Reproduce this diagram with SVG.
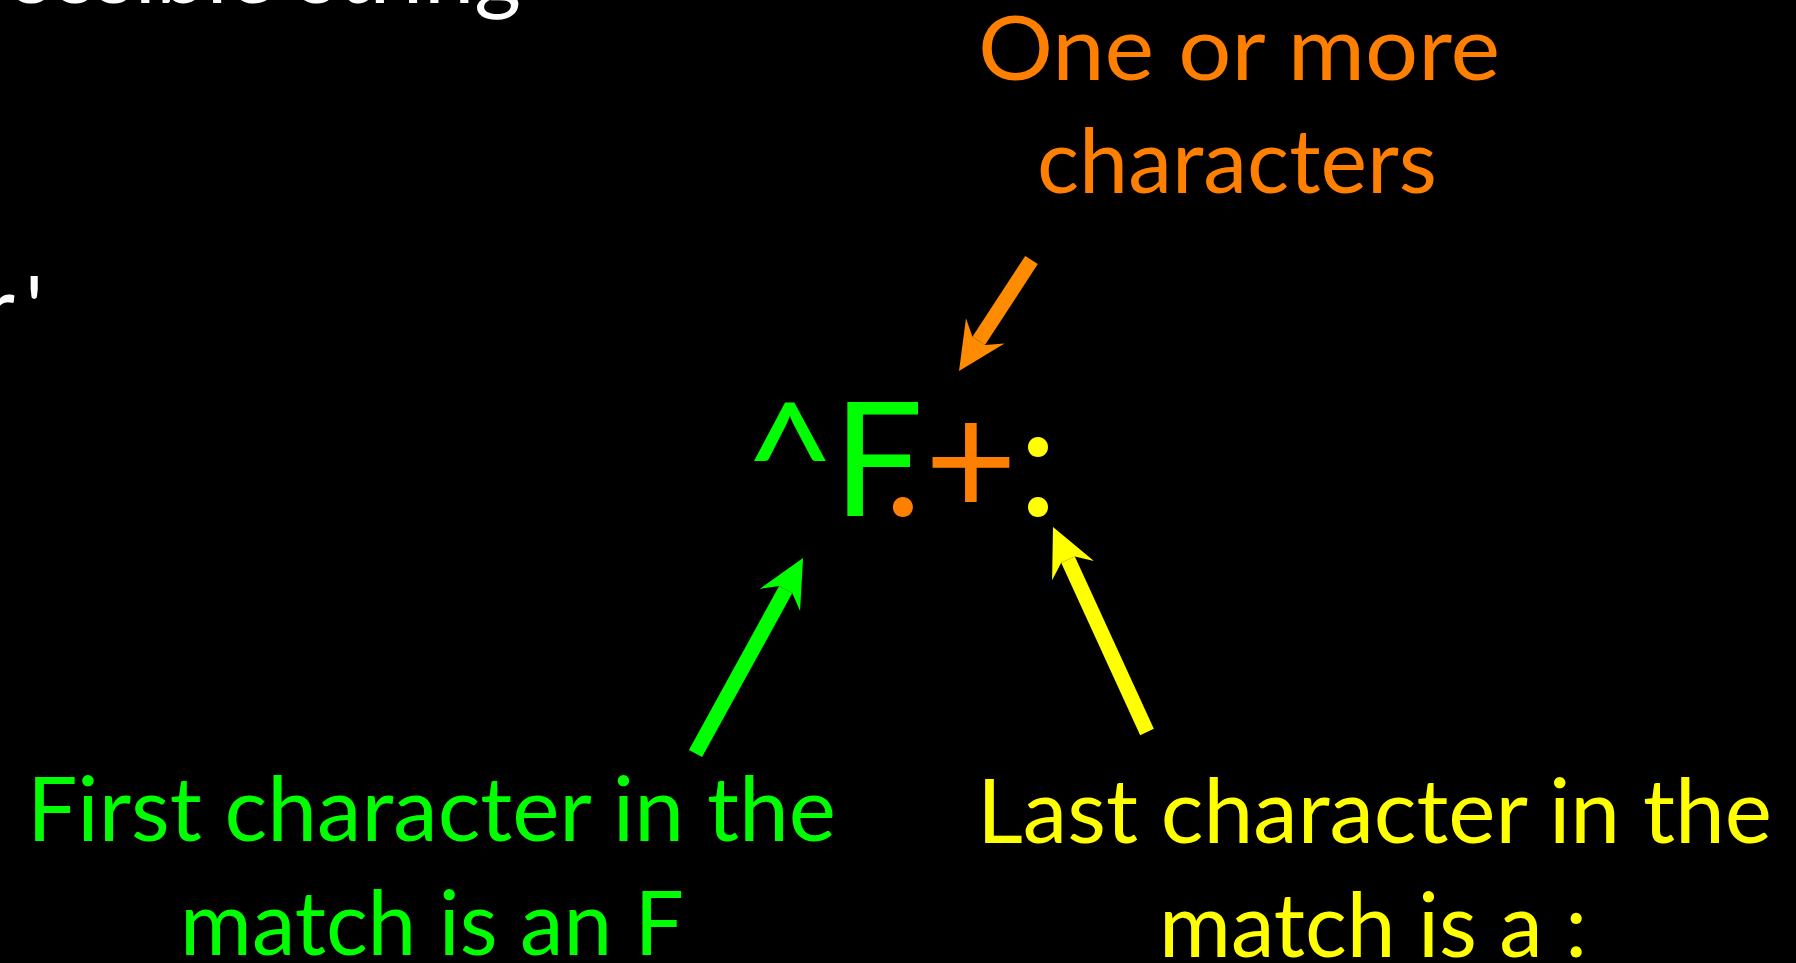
<svg xmlns="http://www.w3.org/2000/svg" width="1796" height="963" viewBox="0 0 1796 963">
<style>
  .lbl { font-family: Lato, "Open Sans", "Liberation Sans", sans-serif; font-size: 90px; }
  .big { font-family: Lato, "Open Sans", "Liberation Sans", sans-serif; font-size: 160px; }
  .g { fill: #00FF00; }
  .o { fill: #FF8000; }
  .y { fill: #FFFF00; }
  .w { fill: #FFFFFF; }
  .shaft { stroke-width: 15; fill: none; }
</style>
<defs>
  <marker id="headO" markerUnits="userSpaceOnUse" orient="auto" refX="0" refY="0" markerWidth="1" markerHeight="1" overflow="visible">
    <path d="M36,0 L-12,-23 L0,-7.5 L0,7.5 L-12,23 Z" fill="#FF8C00"/>
  </marker>
  <marker id="headG" markerUnits="userSpaceOnUse" orient="auto" refX="0" refY="0" markerWidth="1" markerHeight="1" overflow="visible">
    <path d="M36,0 L-12,-23 L0,-7.5 L0,7.5 L-12,23 Z" fill="#00FF00"/>
  </marker>
  <marker id="headY" markerUnits="userSpaceOnUse" orient="auto" refX="0" refY="0" markerWidth="1" markerHeight="1" overflow="visible">
    <path d="M36,0 L-12,-23 L0,-7.5 L0,7.5 L-12,23 Z" fill="#FFFF00"/>
  </marker>
</defs>
<rect x="0" y="0" width="1796" height="963" fill="#000000"/>

<g id="clipped-text">
  <text class="lbl w" x="521" y="3" text-anchor="end">possible string</text>
  <text class="lbl w" x="15" y="340" text-anchor="end">r<tspan x="25" text-anchor="start">'</tspan></text>
</g>

<g id="regex">
  <text class="big g" x="790" y="516" text-anchor="middle">^</text>
  <text class="big g" x="878" y="516" text-anchor="middle">F</text>
  <text class="big o" x="903" y="516" text-anchor="middle">.</text>
  <text class="big o" x="971" y="516" text-anchor="middle">+</text>
  <text class="big y" x="1038" y="516" text-anchor="middle">:</text>
</g>

<g id="label-orange">
  <text class="lbl o" x="978" y="80" textLength="522" lengthAdjust="spacingAndGlyphs">One or more</text>
  <text class="lbl o" x="1037" y="193" textLength="400" lengthAdjust="spacingAndGlyphs">characters</text>
</g>

<g id="label-green">
  <text class="lbl g" x="27" y="841" textLength="809" lengthAdjust="spacingAndGlyphs">First character in the</text>
  <text class="lbl g" x="180" y="955" textLength="504" lengthAdjust="spacingAndGlyphs">match is an F</text>
</g>

<g id="label-yellow">
  <text class="lbl y" x="977" y="843" textLength="795" lengthAdjust="spacingAndGlyphs">Last character in the</text>
  <text class="lbl y" x="1159" y="957" textLength="428" lengthAdjust="spacingAndGlyphs">match is a :</text>
</g>

<g id="connectors">
  <line class="shaft" stroke="#FF8C00" x1="1031.5" y1="260" x2="978.7" y2="340.9" marker-end="url(#headO)"/>
  <line class="shaft" stroke="#00FF00" x1="695.5" y1="753.5" x2="785.7" y2="589.5" marker-end="url(#headG)"/>
  <line class="shaft" stroke="#FFFF00" x1="1147" y1="732" x2="1068" y2="559.7" marker-end="url(#headY)"/>
</g>
</svg>
